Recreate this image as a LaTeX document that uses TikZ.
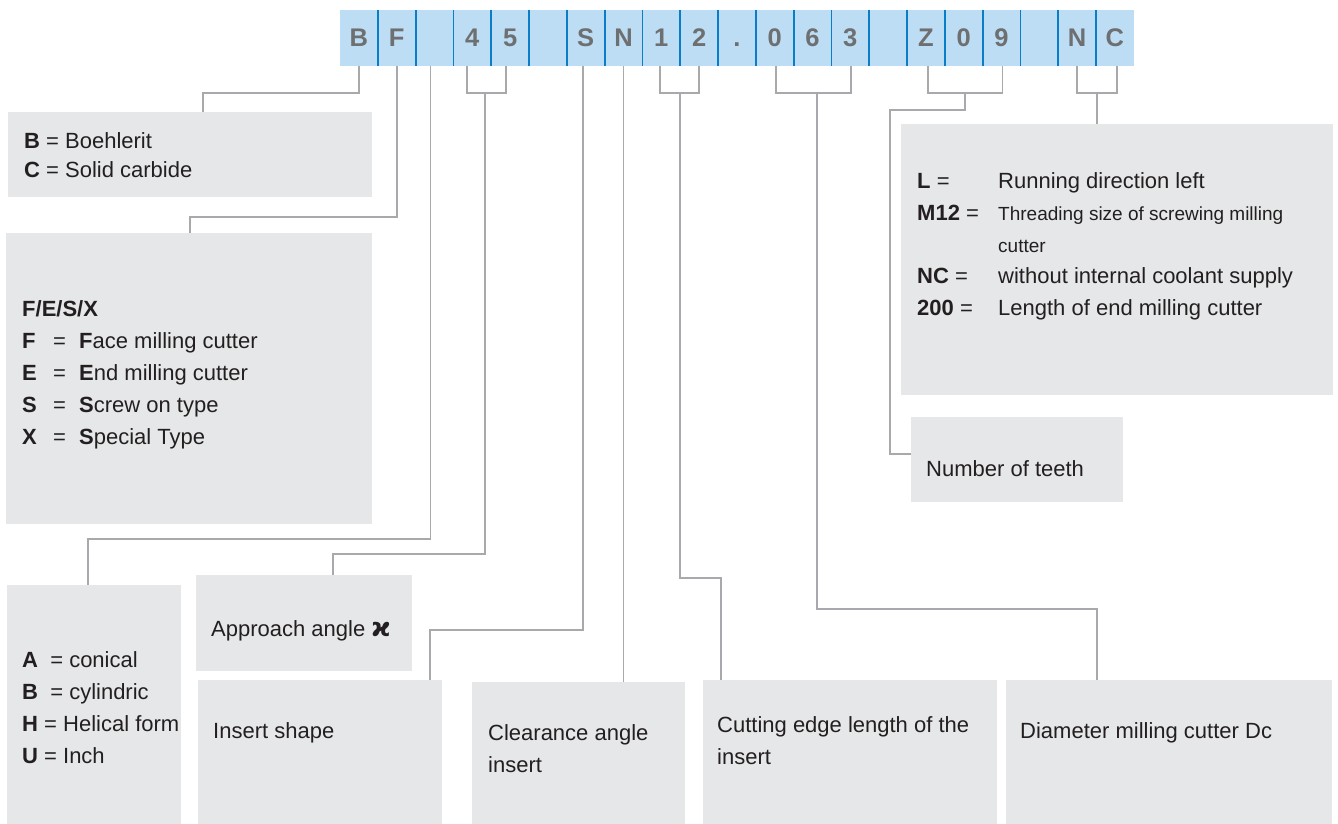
\documentclass[tikz,border=0pt]{standalone}
\usepackage{fontspec}
\setmainfont{Liberation Sans}
\newfontfamily\dejavu{DejaVu Sans}
\usetikzlibrary{calc}
\definecolor{barblue}{RGB}{189,221,244}
\definecolor{divblue}{RGB}{10,125,200}
\definecolor{letgray}{RGB}{110,111,113}
\definecolor{boxgray}{RGB}{230,231,232}
\definecolor{linegray}{RGB}{168,169,172}
\definecolor{txt}{RGB}{35,31,32}
\begin{document}
\begin{tikzpicture}[x=1pt,y=-1pt,
  cell/.style={fill=barblue,minimum width=37.8pt,minimum height=56pt,inner sep=0pt,outer sep=0pt,text=letgray,text height=18pt,text depth=0pt,font=\fontsize{25.5}{25.5}\selectfont\bfseries},
  gbox/.style={fill=boxgray,inner sep=0pt,outer sep=0pt,anchor=north west},
  conn/.style={draw=linegray,line width=1.8pt},
  divl/.style={draw=divblue,line width=1.8pt},
  lbl/.style={anchor=base west,inner sep=0pt,text=txt,font=\fontsize{22}{24}\selectfont},
  lbls/.style={lbl,font=\fontsize{19}{22}\selectfont}]
\useasboundingbox (0,0) rectangle (1338,824);

% ---- code bar ----
\foreach \t [count=\i from 0] in {B,F,{},4,5,{},S,N,1,2,.,0,6,3,{},Z,0,9,{},N,C}{
  \node[cell] (c\i) at ({340+37.8*(\i+0.5)},38) {\t};
}
\foreach \i in {0,...,19}{
  \draw[divl] (c\i.north east) -- (c\i.south east);
}

% ---- boxes ----
\node[gbox,minimum width=364pt,minimum height=85pt] (b1) at (8,112) {};
\node[gbox,minimum width=366pt,minimum height=291pt] (b2) at (6,233) {};
\node[gbox,minimum width=174pt,minimum height=240pt] (b3) at (7,585) {};
\node[gbox,minimum width=216pt,minimum height=96pt] (bA) at (196,575) {};
\node[gbox,minimum width=244pt,minimum height=145pt] (bI) at (198,680) {};
\node[gbox,minimum width=213pt,minimum height=143pt] (bC) at (472,682) {};
\node[gbox,minimum width=294pt,minimum height=145pt] (bE) at (703,680) {};
\node[gbox,minimum width=326pt,minimum height=145pt] (bD) at (1006,680) {};
\node[gbox,minimum width=432pt,minimum height=271pt] (bL) at (901,124) {};
\node[gbox,minimum width=212pt,minimum height=85pt] (bT) at (911,417) {};

% ---- connectors ----
\coordinate (k0) at (203,93);
\draw[conn] (c0.south) |- (k0) -- (k0 |- b1.north);
\coordinate (k1) at (190,217);
\draw[conn] (c1.south) |- (k1) -- (k1 |- b2.north);
\coordinate (k2) at (88,539);
\draw[conn] ($(c2.south)+(-4,0)$) |- (k2) -- (k2 |- b3.north);
% 45
\coordinate (m45) at (485,93);
\draw[conn] ($(c3.south)+(-5,0)$) |- (m45) -| ($(c4.south)+(-4,0)$);
\coordinate (k45) at (333,554);
\draw[conn] (m45) |- (k45) -- (k45 |- bA.north);
% S
\coordinate (kS) at (430,630);
\draw[conn] ($(c6.south)+(-3,0)$) |- (kS) -- (kS |- bI.north);
% N
\draw[conn] (c7.south) -- (c7.south |- bC.north);
% 12
\coordinate (m12) at (680,93);
\draw[conn] ($(c8.south)+(-1,0)$) |- (m12) -| (c9.south);
\coordinate (k12) at (721,578);
\draw[conn] (m12) |- (k12) -- (k12 |- bE.north);
% 063
\coordinate (m063) at (817,93);
\draw[conn] ($(c11.south)+(1,0)$) |- (m063) -| ($(c13.south)+(1,0)$);
\coordinate (k063) at (1097,609);
\draw[conn] (m063) |- (k063) -- (k063 |- bD.north);
% Z09
\coordinate (mZ) at (965,93);
\draw[conn] ($(c15.south)+(2,0)$) |- (mZ) -| ($(c17.south)+(1,0)$);
\coordinate (kZa) at (890,110);
\coordinate (kZb) at (890,454);
\draw[conn] (mZ) |- (kZa) -- (kZb) -- (kZb -| bT.west);
% NC
\coordinate (mNC) at (1097,93);
\draw[conn] (c19.south) |- (mNC) -| ($(c20.south)+(2,0)$);
\draw[conn] (mNC) -- (mNC |- bL.north);

% ---- texts ----
\node[lbl] (t1a) at (24,149) {\textbf{B} = Boehlerit};
\node[lbl] (t1b) at (24,177) {\textbf{C} = Solid carbide};

\node[lbl] (t2h) at (22,316) {\textbf{F/E/S/X}};
\node[lbl] (t2f) at (22,348) {\makebox[31pt][l]{\textbf{F}}\makebox[26pt][l]{=}\textbf{F}ace milling cutter};
\node[lbl] (t2e) at (22,380) {\makebox[31pt][l]{\textbf{E}}\makebox[26pt][l]{=}\textbf{E}nd milling cutter};
\node[lbl] (t2s) at (22,412) {\makebox[31pt][l]{\textbf{S}}\makebox[26pt][l]{=}\textbf{S}crew on type};
\node[lbl] (t2x) at (22,444) {\makebox[31pt][l]{\textbf{X}}\makebox[26pt][l]{=}\textbf{S}pecial Type};

\node[lbl] (t3a) at (22,667) {\textbf{A}\ \ = conical};
\node[lbl] (t3b) at (22,699) {\textbf{B}\ \ = cylindric};
\node[lbl] (t3h) at (22,731) {\textbf{H} = Helical form};
\node[lbl] (t3u) at (22,763) {\textbf{U} = Inch};

\node[lbl] (tA) at (211,636) {Approach angle {\dejavu\bfseries\fontsize{26}{26}\selectfont ϰ}};
\node[lbl] (tI) at (213,738) {Insert shape};
\node[lbl] (tC1) at (488,740) {Clearance angle};
\node[lbl] (tC2) at (488,772) {insert};
\node[lbl] (tE1) at (717,732) {Cutting edge length of the};
\node[lbl] (tE2) at (717,764) {insert};
\node[lbl] (tD) at (1020,738) {Diameter milling cutter Dc};
\node[lbl] (tT) at (926,476) {Number of teeth};

\node[lbl] (tL1) at (917,188) {\makebox[81pt][l]{\textbf{L} =}Running direction left};
\node[lbl] (tL2) at (917,220) {\makebox[81pt][l]{\textbf{M12} =}{\fontsize{19}{22}\selectfont Threading size of screwing milling}};
\node[lbls] (tL3) at (998,252) {cutter};
\node[lbl] (tL4) at (917,283) {\makebox[81pt][l]{\textbf{NC} =}without internal coolant supply};
\node[lbl] (tL5) at (917,315) {\makebox[81pt][l]{\textbf{200} =}Length of end milling cutter};
\end{tikzpicture}
\end{document}
